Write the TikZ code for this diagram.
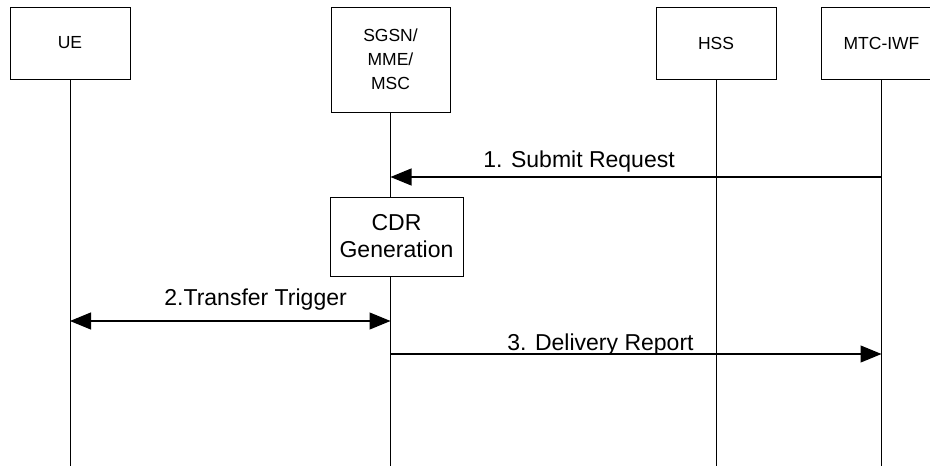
\documentclass[tikz,border=0pt]{standalone}
\usepackage{fontspec}
\setmainfont{Liberation Sans}
\usetikzlibrary{arrows.meta}

\begin{document}
\begin{tikzpicture}[x=1pt,y=-1pt,line width=0.8pt,
  entity/.style={draw,fill=white,minimum width=120pt,inner sep=0pt,align=center,font=\fontsize{17.5}{24}\selectfont},
  msg/.style={line width=1.1pt,-{Triangle[length=21pt,width=17pt]}},
  label/.style={anchor=base west,inner sep=0pt,font=\fontsize{23}{27}\selectfont}]
\useasboundingbox (0,0) rectangle (930,466);
\node[entity,minimum height=72pt] (ue) at (70,43) {UE};
\node[entity,minimum height=105pt,minimum width=119pt] (sgsn) at (390.5,59.5) {SGSN/\\MME/\\MSC};
\node[entity,minimum height=72pt] (hss) at (716,43) {HSS};
\node[entity,minimum height=72pt] (mtc) at (881.5,43) {MTC-IWF};
% lifelines
\foreach \n in {ue,sgsn,hss,mtc}
{
	\coordinate (\n-end) at (\n.south |- 0,466);
	\draw (\n.south) -- (\n-end);
}
\node[draw,fill=white,minimum width=133pt,minimum height=79pt,inner sep=0pt,align=center,
  font=\fontsize{23}{27}\selectfont] (cdr) at (396.5,236.5) {CDR\\Generation};
% messages
\coordinate (y1) at (0,177);
\coordinate (y2) at (0,321);
\coordinate (y3) at (0,354);
\draw[msg] (mtc.south |- y1) -- (sgsn.south |- y1);
\node[label] (l1) at (483,167) {1. Submit Request};
\draw[msg,{Triangle[length=21pt,width=17pt]}-{Triangle[length=21pt,width=17pt]}] (ue.south |- y2) -- (sgsn.south |- y2);
\node[label] (l2) at (164,305) {2.Transfer Trigger};
\draw[msg] (sgsn.south |- y3) -- (mtc.south |- y3);
\node[label] (l3) at (507,350) {3. Delivery Report};
\end{tikzpicture}
\end{document}
